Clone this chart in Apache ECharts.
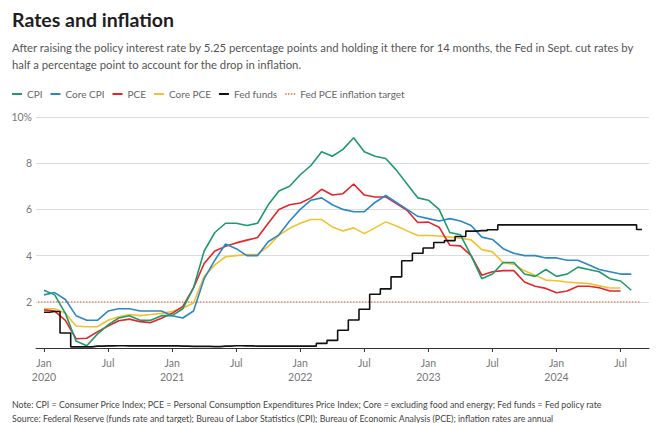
<!DOCTYPE html>
<html><head><meta charset="utf-8">
<script src="https://cdn.jsdelivr.net/npm/echarts@6/dist/echarts.min.js"></script>
<style>html,body{margin:0;padding:0;background:#fff}#c{width:666px;height:423px}</style>
</head><body><div id="c"></div>
<script>
// Month index 0 = Jan 2020
const tickMonths = [0, 6, 12, 18, 24, 30, 36, 42, 48, 54];
const tickLabels = ['Jan\n2020', 'Jul', 'Jan\n2021', 'Jul', 'Jan\n2022', 'Jul', 'Jan\n2023', 'Jul', 'Jan\n2024', 'Jul'];

// Jan 2020 .. Aug 2024
const cpi = [
  2.5, 2.3, 1.5, 0.3, 0.1, 0.6, 1.0, 1.3, 1.4, 1.2, 1.2, 1.4,
  1.4, 1.7, 2.6, 4.2, 5.0, 5.4, 5.4, 5.3, 5.4, 6.2, 6.8, 7.0,
  7.5, 7.9, 8.5, 8.3, 8.6, 9.1, 8.5, 8.3, 8.2, 7.7, 7.1, 6.5,
  6.4, 6.0, 5.0, 4.9, 4.0, 3.0, 3.2, 3.7, 3.7, 3.2, 3.1, 3.4,
  3.1, 3.2, 3.5, 3.4, 3.3, 3.0, 2.9, 2.5
];
const coreCpi = [
  2.3, 2.4, 2.1, 1.4, 1.2, 1.2, 1.6, 1.7, 1.7, 1.6, 1.6, 1.6,
  1.4, 1.3, 1.6, 3.0, 3.8, 4.5, 4.3, 4.0, 4.0, 4.6, 4.9, 5.5,
  6.0, 6.4, 6.5, 6.2, 6.0, 5.9, 5.9, 6.3, 6.6, 6.3, 6.0, 5.7,
  5.6, 5.5, 5.6, 5.5, 5.3, 4.8, 4.7, 4.3, 4.1, 4.0, 4.0, 3.9,
  3.9, 3.8, 3.8, 3.6, 3.4, 3.3, 3.2, 3.2
];
// Jan 2020 .. Jul 2024
const pce = [
  1.65, 1.6, 1.2, 0.4, 0.42, 0.7, 0.95, 1.18, 1.25, 1.14, 1.1, 1.29,
  1.5, 1.8, 2.6, 3.66, 4.2, 4.4, 4.55, 4.67, 4.78, 5.4, 6.0, 6.2,
  6.28, 6.5, 6.87, 6.62, 6.68, 7.1, 6.62, 6.54, 6.54, 6.25, 5.96, 5.43,
  5.45, 5.23, 4.45, 4.42, 4.0, 3.15, 3.3, 3.35, 3.35, 2.86, 2.67, 2.58,
  2.39, 2.47, 2.67, 2.67, 2.61, 2.47, 2.47
];
const corePce = [
  1.7, 1.7, 1.5, 0.95, 0.92, 0.92, 1.2, 1.35, 1.45, 1.4, 1.45, 1.5,
  1.58, 1.73, 1.95, 3.1, 3.6, 3.95, 4.0, 4.05, 4.05, 4.4, 4.88, 5.18,
  5.4, 5.56, 5.56, 5.24, 5.07, 5.2, 4.95, 5.2, 5.46, 5.28, 5.07, 4.87,
  4.87, 4.85, 4.8, 4.75, 4.68, 4.26, 4.16, 3.69, 3.63, 3.34, 3.15, 2.94,
  2.91, 2.86, 2.82, 2.79, 2.69, 2.6, 2.6
];
// Jan 2020 .. Sep 2024
const fedFunds = [
  1.55, 1.58, 0.65, 0.05, 0.05, 0.08, 0.09, 0.10, 0.09, 0.09, 0.09, 0.09,
  0.09, 0.08, 0.07, 0.07, 0.06, 0.08, 0.10, 0.09, 0.08, 0.08, 0.08, 0.08,
  0.08, 0.08, 0.20, 0.33, 0.77, 1.21, 1.68, 2.33, 2.56, 3.08, 3.78, 4.10,
  4.33, 4.57, 4.65, 4.83, 5.06, 5.08, 5.12, 5.33, 5.33, 5.33, 5.33, 5.33,
  5.33, 5.33, 5.33, 5.33, 5.33, 5.33, 5.33, 5.33, 5.13
];
const targetRate = 2;
const targetSpan = [-0.55, 55.8];

const FONT = 'Lato';
const pairs = arr => arr.map((v, i) => [i, v]);

const chart = echarts.init(document.getElementById('c'), null, { renderer: 'svg' });
const seriesLine = (name, data, color) => ({
  name, type: 'line', data: pairs(data), symbol: 'none', silent: true,
  lineStyle: { color, width: 1.6 }, itemStyle: { color }
});
const dotIcon = 'path://M0,0h2v2h-2zM4,0h2v2h-2zM8,0h2v2h-2zM12,0h2v2h-2z';

chart.setOption({
  animation: false,
  textStyle: { fontFamily: FONT },
  title: [
    { text: 'Rates and inflation', left: 12, top: 7, padding: 0,
      textStyle: { fontFamily: FONT, fontSize: 19.5, fontWeight: 'bold', color: '#1e1e1e', lineHeight: 24 } },
    { text: 'After raising the policy interest rate by 5.25 percentage points and holding it there for 14 months, the Fed in Sept. cut rates by\nhalf a percentage point to account for the drop in inflation.',
      left: 12, top: 38.5, padding: 0,
      textStyle: { fontFamily: FONT, fontSize: 11.3, fontWeight: 'normal', color: '#555', lineHeight: 17 } },
    { text: 'Note: CPI = Consumer Price Index; PCE = Personal Consumption Expenditures Price Index; Core = excluding food and energy; Fed funds = Fed policy rate\nSource: Federal Reserve (funds rate and target); Bureau of Labor Statistics (CPI); Bureau of Economic Analysis (PCE); inflation rates are annual',
      left: 12, top: 397, padding: 0,
      textStyle: { fontFamily: FONT, fontSize: 8.8, fontWeight: 'normal', color: '#444', lineHeight: 14 } }
  ],
  legend: {
    left: 12, top: 89, padding: 0, itemWidth: 10, itemHeight: 2, itemGap: 8,
    textStyle: { fontFamily: FONT, fontSize: 10, color: '#666' },
    selectedMode: false,
    data: [
      { name: 'CPI', icon: 'rect' },
      { name: 'Core CPI', icon: 'rect' },
      { name: 'PCE', icon: 'rect' },
      { name: 'Core PCE', icon: 'rect' },
      { name: 'Fed funds', icon: 'rect' },
      { name: 'Fed PCE inflation target', icon: dotIcon }
    ]
  },
  grid: { left: 36, right: 17, top: 117, bottom: 75 },
  xAxis: {
    type: 'value', min: -0.75, max: 56.66,
    splitLine: { show: false },
    axisLine: { show: true, lineStyle: { color: '#333', width: 1 } },
    axisTick: { show: true, customValues: tickMonths, length: 4, lineStyle: { color: '#333' } },
    axisLabel: {
      customValues: tickMonths, margin: 8, color: '#777', fontSize: 10.5, lineHeight: 14, fontFamily: FONT,
      formatter: v => tickLabels[tickMonths.indexOf(Math.round(v))] || ''
    }
  },
  yAxis: {
    type: 'value', min: 0, max: 10, interval: 2,
    axisLine: { show: false }, axisTick: { show: false },
    splitLine: { lineStyle: { color: '#dcdcdc', width: 1 } },
    axisLabel: { margin: 4, color: '#777', fontSize: 10.5, fontFamily: FONT,
      formatter: v => v === 10 ? '10%' : (v === 0 ? '' : String(v)) }
  },
  series: [
    { name: 'Fed PCE inflation target', type: 'line', symbol: 'none', silent: true,
      data: targetSpan.map(m => [m, targetRate]),
      lineStyle: { color: '#e8692b', width: 1.2, type: [1.2, 1.8] }, itemStyle: { color: '#e8692b' } },
    seriesLine('Core PCE', corePce, '#f2c22e'),
    seriesLine('PCE', pce, '#e3262b'),
    seriesLine('Core CPI', coreCpi, '#2d87c3'),
    seriesLine('CPI', cpi, '#1f9a6c'),
    { name: 'Fed funds', type: 'line', step: 'middle', symbol: 'none', silent: true,
      data: pairs(fedFunds), lineStyle: { color: '#111', width: 1.6 }, itemStyle: { color: '#111' } }
  ]
});
</script>
</body></html>
